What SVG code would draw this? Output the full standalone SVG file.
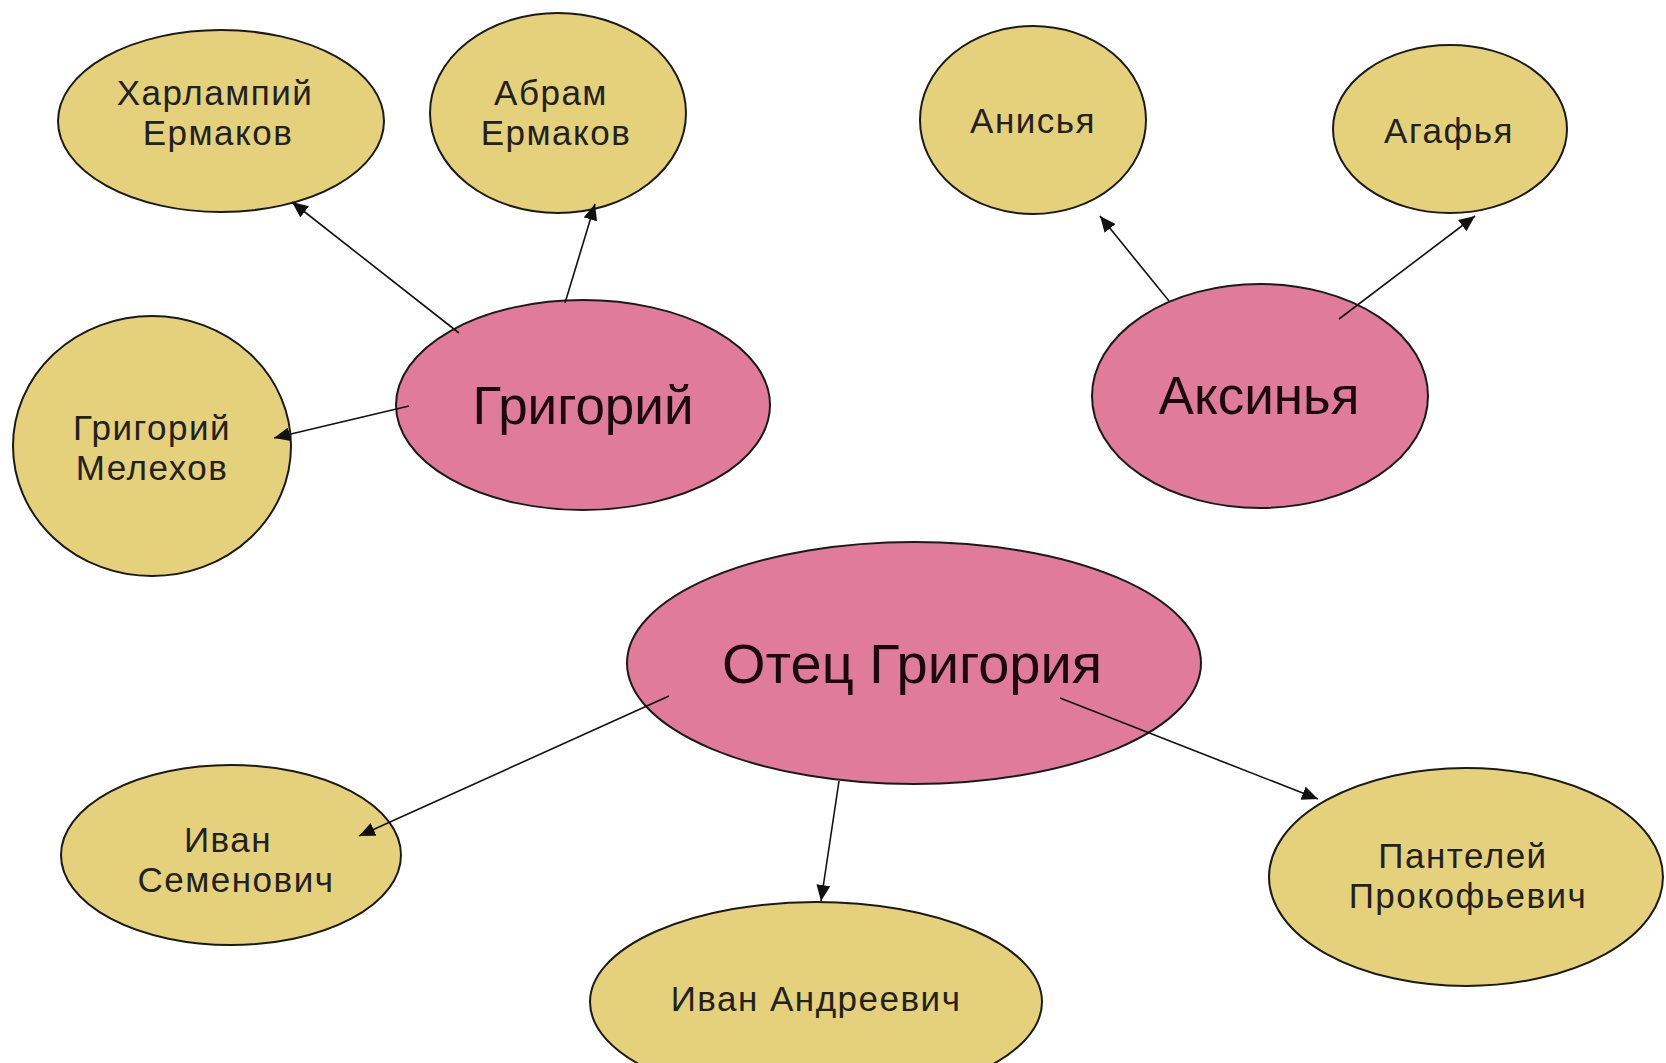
<svg xmlns="http://www.w3.org/2000/svg" width="1666" height="1063" viewBox="0 0 1666 1063">
<style>
.y{fill:#E5D17B;stroke:#1a1a1a;stroke-width:2}
.p{fill:#E07B9B;stroke:#1a1a1a;stroke-width:2}
.s{font-family:"Liberation Sans",Arial,sans-serif;font-size:35px;fill:#222;text-anchor:middle;letter-spacing:1.5px}
.b{font-family:"Liberation Sans",Arial,sans-serif;font-size:53px;fill:#1a0a10;text-anchor:middle}
.c{stroke:#111;stroke-width:1.6;fill:none;marker-end:url(#ah)}
</style>
<defs>
<marker id="ah" markerUnits="userSpaceOnUse" markerWidth="18" markerHeight="14" refX="16" refY="7" orient="auto">
<path d="M0,0 L16,7 L0,14 Z" fill="#111"/>
</marker>
</defs>
<rect width="1666" height="1063" fill="#fff"/>
<g id="harlampiy"><ellipse class="y" cx="221" cy="121" rx="163" ry="91"/><text class="s" x="215" y="105">Харлампий</text><text class="s" x="218" y="145">Ермаков</text></g>
<g id="abram"><ellipse class="y" cx="558" cy="113" rx="128" ry="100"/><text class="s" x="551" y="105">Абрам</text><text class="s" x="556" y="145">Ермаков</text></g>
<g id="melekhov"><ellipse class="y" cx="152" cy="446" rx="139" ry="130"/><text class="s" x="152" y="440">Григорий</text><text class="s" x="152" y="480">Мелехов</text></g>
<g id="grigoriy"><ellipse class="p" cx="583" cy="405" rx="187" ry="105"/><text class="b" x="583" y="424">Григорий</text></g>
<g id="anisya"><ellipse class="y" cx="1033" cy="120" rx="113" ry="94"/><text class="s" x="1033" y="133">Анисья</text></g>
<g id="agafya"><ellipse class="y" cx="1450" cy="129" rx="117" ry="84"/><text class="s" x="1449" y="143">Агафья</text></g>
<g id="aksinya"><ellipse class="p" cx="1260" cy="396" rx="168" ry="112"/><text class="b" x="1259" y="414">Аксинья</text></g>
<g id="otets"><ellipse class="p" cx="914" cy="663" rx="287" ry="121"/><text class="b" x="912" y="683" style="font-size:56px">Отец Григория</text></g>
<g id="ivan-semenovich"><ellipse class="y" cx="231" cy="855" rx="170" ry="90"/><text class="s" x="228" y="852">Иван</text><text class="s" x="236" y="892">Семенович</text></g>
<g id="ivan-andreevich"><ellipse class="y" cx="816" cy="1002" rx="226" ry="100"/><text class="s" x="816" y="1011">Иван Андреевич</text></g>
<g id="panteley"><ellipse class="y" cx="1466" cy="877" rx="197" ry="109"/><text class="s" x="1463" y="868">Пантелей</text><text class="s" x="1468" y="908">Прокофьевич</text></g>
<g id="connectors">
<line class="c" x1="459" y1="333" x2="292" y2="202"/>
<line class="c" x1="565" y1="303" x2="595" y2="204"/>
<line class="c" x1="409" y1="406" x2="274" y2="438"/>
<line class="c" x1="1169" y1="301" x2="1100" y2="216"/>
<line class="c" x1="1339" y1="319" x2="1475" y2="216"/>
<line class="c" x1="669" y1="696" x2="359" y2="836"/>
<line class="c" x1="839" y1="781" x2="821" y2="901"/>
<line class="c" x1="1060" y1="698" x2="1318" y2="799"/>
</g>
</svg>
